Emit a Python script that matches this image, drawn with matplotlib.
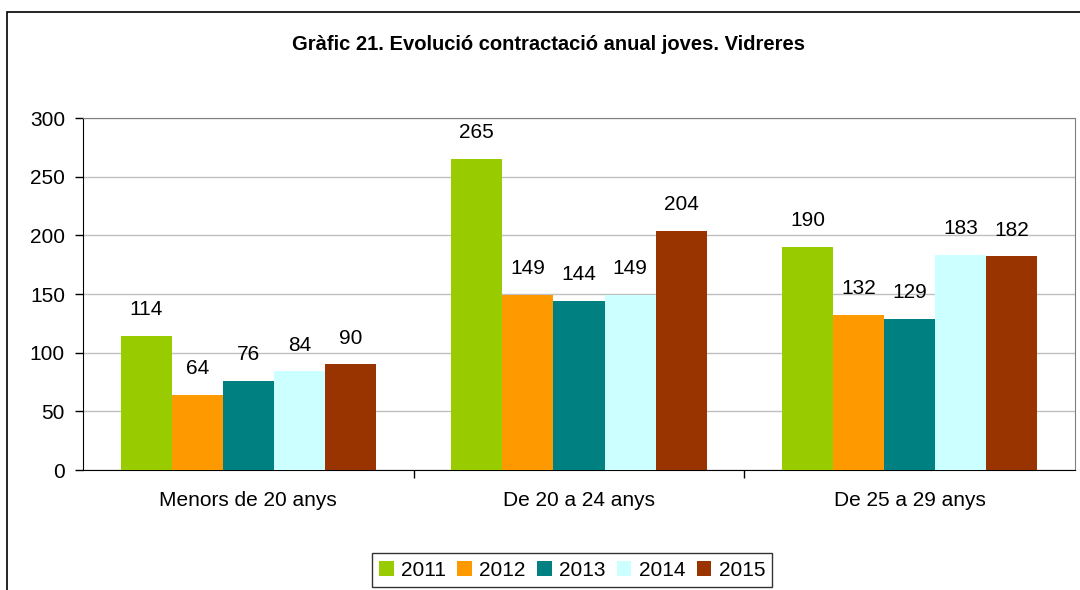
import matplotlib.pyplot as plt
import numpy as np
from matplotlib.patches import Rectangle

plt.rcParams['font.family'] = ['Liberation Sans', 'DejaVu Sans']

categories = ['Menors de 20 anys', 'De 20 a 24 anys', 'De 25 a 29 anys']
years = ['2011', '2012', '2013', '2014', '2015']
values = {
    '2011': [114, 265, 190],
    '2012': [64, 149, 132],
    '2013': [76, 144, 129],
    '2014': [84, 149, 183],
    '2015': [90, 204, 182],
}
colors = ['#99CC00', '#FF9900', '#008080', '#CCFFFF', '#993300']

W, H = 1080, 590
fig = plt.figure(figsize=(W / 100, H / 100), dpi=100)

# outer frame of the chart (runs off the right and bottom edges)
fig.patches.append(Rectangle((7 / W, -0.1), 1.2, (H - 12) / H + 0.1,
                             transform=fig.transFigure, fill=False,
                             edgecolor='black', linewidth=1.2))

ax = fig.add_axes([83 / W, (H - 470) / H, (1075 - 83) / W, (470 - 118) / H])

x = np.arange(len(categories))
bw = 0.1545
for i, (yr, c) in enumerate(zip(years, colors)):
    xs = x - 2 * bw + i * bw
    bars = ax.bar(xs, values[yr], width=bw, color=c, label=yr, zorder=3)
    for b, v in zip(bars, values[yr]):
        ax.annotate(str(v), (b.get_x() + b.get_width() / 2, v),
                    xytext=(0, 19), textcoords='offset points',
                    ha='center', va='center', fontsize=15)

ax.set_xlim(-0.5, 2.5)
ax.set_ylim(0, 300)
ax.set_yticks(range(0, 301, 50))
ax.yaxis.grid(True, color='#C0C0C0', linewidth=1, zorder=0)
ax.tick_params(axis='y', labelsize=15, length=6, width=1, pad=7, direction='out')

ax.set_xticks([0.5, 1.5], minor=False)
ax.set_xticklabels([])
ax.set_xticks(x, minor=True)
ax.set_xticklabels(categories, minor=True)
ax.tick_params(axis='x', which='major', length=6, width=1)
ax.tick_params(axis='x', which='minor', length=0, labelsize=15, pad=15)

for s in ['top', 'right']:
    ax.spines[s].set_color('#808080')
for s in ['left', 'bottom']:
    ax.spines[s].set_color('black')

fig.text(549 / W, 1 - 45 / H, 'Gràfic 21. Evolució contractació anual joves. Vidreres',
         ha='center', va='center', fontsize=14.5, fontweight='bold')

leg = fig.legend(loc='center', bbox_to_anchor=(572 / W, 1 - 570 / H), ncol=5,
                 fontsize=15, frameon=True, fancybox=False, edgecolor='black',
                 handlelength=0.7, handleheight=0.7, handletextpad=0.35,
                 columnspacing=0.55, borderpad=0.35)
leg.get_frame().set_linewidth(1)

fig.savefig('out.png', dpi=100)
